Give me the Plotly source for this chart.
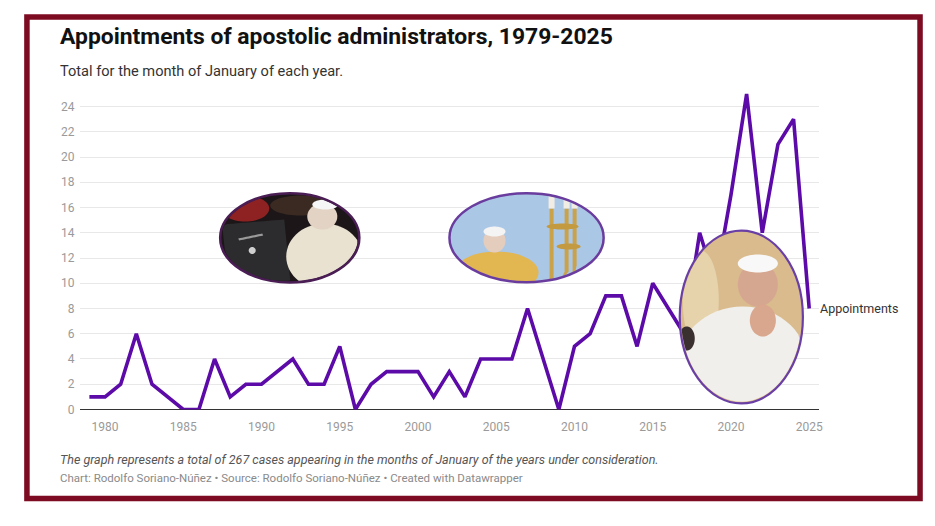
import math
import plotly.graph_objects as go

# ---------------- data ----------------
years = list(range(1979, 2026))
appointments = [1, 1, 2, 6, 2, 1, 0, 0, 4, 1,
                2, 2, 3, 4, 2, 2, 5, 0, 2, 3,
                3, 3, 1, 3, 1, 4, 4, 4, 8, 4,
                0, 5, 6, 9, 9, 5, 10, 8, 6, 14,
                10, 17, 25, 14, 21, 23, 8]
x_tick_vals = [1980, 1985, 1990, 1995, 2000, 2005, 2010, 2015, 2020, 2025]
y_tick_vals = [0, 2, 4, 6, 8, 10, 12, 14, 16, 18, 20, 22, 24]
series_name = "Appointments"
title = "Appointments of apostolic administrators, 1979-2025"
subtitle = "Total for the month of January of each year."
note = "The graph represents a total of 267 cases appearing in the months of January of the years under consideration."
credit = "Chart: Rodolfo Soriano-Núñez • Source: Rodolfo Soriano-Núñez • Created with Datawrapper"

# page body has an 8px margin; lay out in window pixels and convert
OFF = 8
W, H = 935 - 2 * OFF, 526 - 2 * OFF
VS = 0.9866   # observed vertical compression of the rendered page
HS = 0.9944   # observed horizontal compression of the rendered page
FONT = "Roboto"


def px(x):
    return ((x - 8.1) / HS) / W


def py(y):
    return 1 - ((y - 7.4) / VS) / H


def clip_pt(x, y, clip):
    if clip is None:
        return x, y
    cx, cy, rx, ry = clip
    r2 = ((x - cx) / rx) ** 2 + ((y - cy) / ry) ** 2
    if r2 > 0.96:
        s = math.sqrt(0.96 / r2)
        x = cx + (x - cx) * s
        y = cy + (y - cy) * s
    return x, y


def poly_path(pts, clip=None):
    out = []
    for i, (x, y) in enumerate(pts):
        x, y = clip_pt(x, y, clip)
        out.append(("M" if i == 0 else "L") + f"{px(x):.5f},{py(y):.5f}")
    return " ".join(out) + " Z"


def ell_pts(cx, cy, rx, ry, n=60):
    return [(cx + rx * math.cos(2 * math.pi * k / n), cy + ry * math.sin(2 * math.pi * k / n)) for k in range(n)]


def densify(pts, n=12):
    res = []
    for i in range(len(pts)):
        x0, y0 = pts[i]
        x1, y1 = pts[(i + 1) % len(pts)]
        for k in range(n):
            t = k / n
            res.append((x0 + (x1 - x0) * t, y0 + (y1 - y0) * t))
    return res


shapes = []


def add_path(path, color):
    shapes.append(dict(type="path", xref="paper", yref="paper", path=path,
                       fillcolor=color, line=dict(width=0), layer="above"))


def add_ellipse_frame(c, fill, outline, width):
    cx, cy, rx, ry = c
    shapes.append(dict(type="circle", xref="paper", yref="paper",
                       x0=px(cx - rx), x1=px(cx + rx), y0=py(cy + ry), y1=py(cy - ry),
                       fillcolor=fill, line=dict(width=0), layer="above"))
    return dict(type="circle", xref="paper", yref="paper",
                x0=px(cx - rx), x1=px(cx + rx), y0=py(cy + ry), y1=py(cy - ry),
                fillcolor="rgba(0,0,0,0)", line=dict(color=outline, width=width), layer="above")


def add_ell(c, e, color):
    add_path(poly_path(ell_pts(*e), c), color)


def add_poly(c, pts, color):
    add_path(poly_path(densify(pts), c), color)


outlines = []

# --- photo 1 (John Paul II at a laptop) ---
C1 = (289.5, 237.3, 69.5, 44.7)
outlines.append(add_ellipse_frame(C1, "#1c1618", "#4a1d55", 2.5))
add_ell(C1, (245, 208, 24, 13), "#8e2222")
add_ell(C1, (300, 205, 30, 10), "#3a2a22")
add_poly(C1, [(222, 224), (284, 219), (290, 280), (228, 282)], "#2c2c2e")
add_ell(C1, (252, 250, 3.5, 3.5), "#cfcfcf")
add_poly(C1, [(238, 238), (262, 233), (263, 235), (239, 240)], "#9a9a9a")
add_ell(C1, (324, 256, 38, 33), "#e9e2d0")
add_ell(C1, (322, 216, 15, 13), "#e2d3c4")
add_ell(C1, (325, 204, 13, 5), "#f6f6f6")

# --- photo 2 (Benedict XVI with candlesticks) ---
C2 = (526.0, 237.2, 77.0, 44.5)
outlines.append(add_ellipse_frame(C2, "#abc7e6", "#6a3c9e", 2.5))
add_ell(C2, (496, 272, 42, 21), "#e2b651")
add_ell(C2, (494, 240, 11, 12), "#e5cdbd")
add_ell(C2, (494, 231, 11, 5), "#f4f4f4")
for (x0, x1) in [(549, 553), (564, 568), (572, 576)]:
    add_poly(C2, [(x0, 208), (x1, 208), (x1, 284), (x0, 284)], "#c9a24a")
    add_poly(C2, [(x0 - 1, 193), (x1 + 1, 193), (x1 + 1, 208), (x0 - 1, 208)], "#f1ede4")
add_ell(C2, (562, 226, 16, 3), "#c39a40")
add_ell(C2, (568, 246, 12, 3), "#c39a40")

# --- photo 3 (Francis praying) ---
C3 = (740.5, 316.5, 61.5, 86.5)
outlines.append(add_ellipse_frame(C3, "#d9bb8e", "#6a3fa5", 2.2))
add_ell(C3, (700, 300, 18, 50), "#e6d3ab")
add_ell(C3, (742, 362, 64, 56), "#f1efeb")
add_ell(C3, (757, 284, 20, 22), "#d6a790")
add_ell(C3, (757, 263, 20, 9), "#f8f8f8")
add_ell(C3, (762, 320, 13, 16), "#d9a68e")
add_ell(C3, (686, 338, 8, 12), "#3a3030")

shapes.extend(outlines)

# --- outer frame ---
shapes.append(dict(type="rect", xref="paper", yref="paper",
                   x0=px(27), x1=px(919), y0=py(498), y1=py(16.5),
                   line=dict(color="#7d0b22", width=5.5), fillcolor="rgba(0,0,0,0)", layer="above"))

fig = go.Figure()
fig.add_trace(go.Scatter(x=years, y=appointments, mode="lines", name=series_name,
                         line=dict(color="#5c0aa8", width=3.6), cliponaxis=False,
                         hoverinfo="x+y"))

annotations = [
    dict(text=f"<b>{title}</b>", x=px(58), y=py(36), xref="paper", yref="paper",
         xanchor="left", yanchor="middle", showarrow=False,
         font=dict(family=FONT, size=22.9, color="#111111")),
    dict(text=subtitle, x=px(58), y=py(70), xref="paper", yref="paper",
         xanchor="left", yanchor="middle", showarrow=False,
         font=dict(family=FONT, size=14.6, color="#333333")),
    dict(text=f"<i>{note}</i>", x=px(58), y=py(459), xref="paper", yref="paper",
         xanchor="left", yanchor="middle", showarrow=False,
         font=dict(family=FONT, size=12.5, color="#555555")),
    dict(text=credit, x=px(58), y=py(478), xref="paper", yref="paper",
         xanchor="left", yanchor="middle", showarrow=False,
         font=dict(family=FONT, size=11.5, color="#8a8a8a")),
    dict(text=series_name, x=years[-1], y=appointments[-1], xref="x", yref="y",
         xanchor="left", yanchor="middle", xshift=9, showarrow=False,
         font=dict(family=FONT, size=12.5, color="#333333")),
]

fig.update_layout(
    width=W, height=H,
    margin=dict(l=0, r=0, t=0, b=0),
    paper_bgcolor="white", plot_bgcolor="white",
    showlegend=False,
    font=dict(family=FONT),
    shapes=shapes,
    annotations=annotations,
    xaxis=dict(domain=[px(80), px(818)], range=[1978.4, 2025.62],
               tickvals=x_tick_vals, ticktext=[str(v) for v in x_tick_vals],
               showgrid=False, zeroline=False, showline=False,
               ticks="outside", ticklen=6, tickcolor="rgba(0,0,0,0)",
               tickfont=dict(family=FONT, size=12, color="#9a9a9a")),
    yaxis=dict(domain=[py(409), py(80.75)], range=[0, 26],
               tickvals=y_tick_vals, ticktext=[str(v) for v in y_tick_vals],
               showgrid=True, gridcolor="#e8e8e8", gridwidth=1,
               zeroline=True, zerolinecolor="#333333", zerolinewidth=1,
               showline=False, ticks="outside", ticklen=2, tickcolor="rgba(0,0,0,0)",
               tickfont=dict(family=FONT, size=12, color="#9a9a9a")),
)

fig.write_html("out.html")
